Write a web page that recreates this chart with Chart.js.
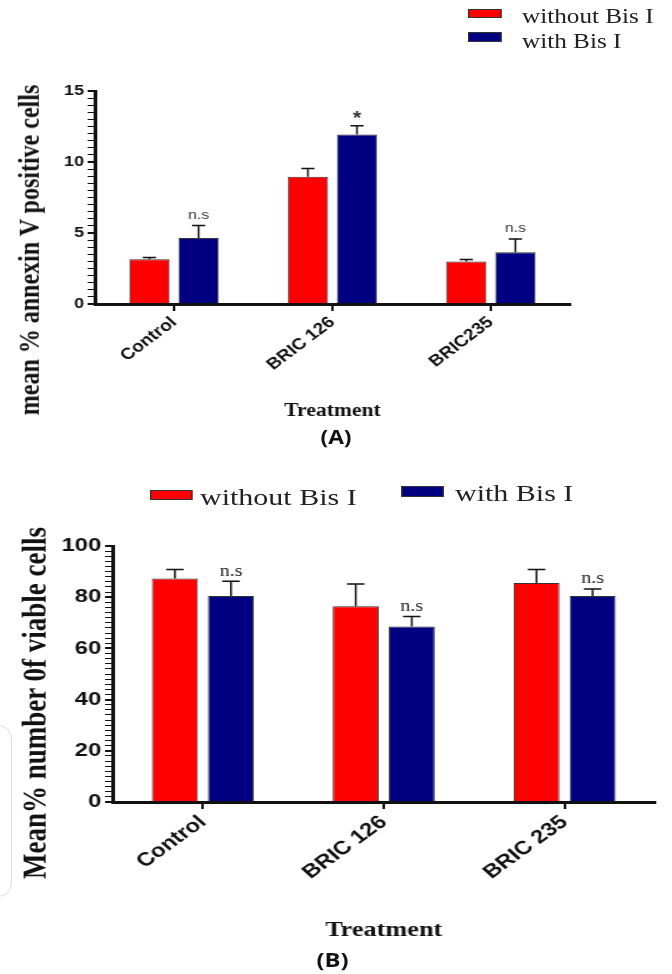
<!DOCTYPE html>
<html>
<head>
<meta charset="utf-8">
<script src="https://cdn.jsdelivr.net/npm/chart.js@4.4.1/dist/chart.umd.min.js"></script>
<style>
body{margin:0;background:#fff;width:672px;height:974px;overflow:hidden;position:relative;font-family:"Liberation Sans",Arial,sans-serif}
.panel{position:absolute;left:0;transform-origin:0 0}
#panelA{top:0;width:560px;height:460px;transform:scaleX(1.2)}
#panelB{top:470px;width:538px;height:504px;transform:scaleX(1.25)}
canvas{position:absolute;left:0;top:0}
.ytitle{position:absolute;font-family:"Liberation Serif","Times New Roman",serif;font-weight:bold;white-space:nowrap;color:#111;transform:translate(-50%,-50%) rotate(-90deg)}
.leg{position:absolute;font-family:"Liberation Serif","Times New Roman",serif;white-space:nowrap;color:#222}
.sw{position:absolute;border:1px solid #333;box-sizing:border-box}
.tag{position:absolute;font-family:"Open Sans",sans-serif;font-weight:bold;font-size:19px;color:#111;transform:translate(-50%,-50%)}
.edge{position:absolute;left:-20px;top:725px;width:30px;height:170px;border:1px solid #ddd;border-radius:14px}
</style>
</head>
<body>
<div class="edge"></div>

<div class="panel" id="panelA">
  <canvas id="chartA" width="560" height="425" style="width:560px;height:425px"></canvas>
  <div class="sw" style="left:390px;top:9px;width:28px;height:9px;background:#ff0000"></div>
  <div class="leg" style="left:435px;top:6px;font-size:21px;line-height:21px">without Bis I</div>
  <div class="sw" style="left:390px;top:32px;width:28px;height:10px;background:#000080"></div>
  <div class="leg" style="left:435px;top:31px;font-size:21px;line-height:21px">with Bis I</div>
  <div class="ytitle" style="left:25px;top:250px;font-size:24px">mean % annexin V positive cells</div>
  <div class="tag" style="left:280px;top:437px">(A)</div>
</div>

<div class="panel" id="panelB">
  <canvas id="chartB" width="538" height="480" style="width:538px;height:480px"></canvas>
  <div class="sw" style="left:120px;top:20px;width:34px;height:10px;background:#ff0000"></div>
  <div class="leg" style="left:160px;top:15px;font-size:24px;line-height:24px">without Bis I</div>
  <div class="sw" style="left:321px;top:16px;width:34px;height:11px;background:#000080"></div>
  <div class="leg" style="left:364px;top:11px;font-size:24px;line-height:24px">with Bis I</div>
  <div class="ytitle" style="left:28px;top:233px;font-size:27px">Mean% number 0f viable cells</div>
  <div class="tag" style="left:266px;top:490px">(B)</div>
</div>

<script>
// panel A: annexin V
const categoriesA = ['Control', 'BRIC 126', 'BRIC235'];
const withoutA = [3.16, 8.97, 3.0];
const withoutSemA = [0.12, 0.58, 0.14];
const withA = [4.64, 11.94, 3.65];
const withSemA = [0.89, 0.61, 0.92];
const marksA = ['n.s', '*', 'n.s'];

// panel B: viable cells
const categoriesB = ['Control', 'BRIC 126', 'BRIC 235'];
const withoutB = [87.3, 76.5, 85.5];
const withoutSemB = [3.5, 8.7, 5.3];
const withB = [80.5, 68.6, 80.5];
const withSemB = [5.7, 3.9, 2.7];
const marksB = ['n.s', 'n.s', 'n.s'];

const RED = '#ff0000', NAVY = '#000080', INK = '#111';

// upper error bars + significance marks
const errorBars = {
  id: 'errorBars',
  afterDatasetsDraw(chart, args, opts) {
    const ctx = chart.ctx, y = chart.scales.y;
    chart.data.datasets.forEach((ds, i) => {
      chart.getDatasetMeta(i).data.forEach((bar, j) => {
        const top = y.getPixelForValue(ds.data[j] + ds.sem[j]);
        ctx.save();
        ctx.strokeStyle = INK;
        ctx.lineWidth = opts.lineWidth;
        ctx.beginPath();
        ctx.moveTo(bar.x, bar.y);
        ctx.lineTo(bar.x, top);
        ctx.moveTo(bar.x - opts.cap / 2, top);
        ctx.lineTo(bar.x + opts.cap / 2, top);
        ctx.stroke();
        const t = ds.marks && ds.marks[j];
        if (t) {
          ctx.font = t === '*' ? opts.starFont : opts.font;
          ctx.fillStyle = opts.color;
          ctx.textAlign = 'center';
          ctx.textBaseline = 'bottom';
          ctx.fillText(t, bar.x, top - (t === '*' ? opts.starGap : opts.gap));
        }
        ctx.restore();
      });
    });
  }
};

function makeChart(id, cfg) {
  const tickFont = size => ({ family: 'Liberation Sans', weight: 'bold', size: size });
  return new Chart(document.getElementById(id), {
    type: 'bar',
    data: {
      labels: cfg.labels,
      datasets: [
        { label: 'without Bis I', data: cfg.without, sem: cfg.withoutSem, backgroundColor: RED,
          borderColor: '#333', borderWidth: 1, barPercentage: 0.82, categoryPercentage: 0.62 },
        { label: 'with Bis I', data: cfg.with, sem: cfg.withSem, marks: cfg.marks, backgroundColor: NAVY,
          borderColor: '#333', borderWidth: 1, barPercentage: 0.82, categoryPercentage: 0.62 }
      ]
    },
    options: {
      responsive: false,
      animation: false,
      layout: { padding: cfg.padding },
      plugins: {
        legend: { display: false },
        tooltip: { enabled: false },
        errorBars: cfg.err
      },
      scales: {
        x: {
          afterFit(s) { s.height = cfg.xHeight; },
          grid: { offset: false, drawOnChartArea: false, tickLength: 7, color: INK, lineWidth: 2 },
          border: { color: INK, width: 3 },
          ticks: { autoSkip: false, minRotation: cfg.rot, maxRotation: cfg.rot, padding: 2,
                   color: INK, font: tickFont(cfg.xFont) },
          title: { display: true, text: 'Treatment', color: INK,
                   font: { family: 'Liberation Serif', weight: 'bold', size: cfg.titleFont },
                   padding: { top: 0, bottom: cfg.titlePad } }
        },
        y: {
          min: 0, max: cfg.max,
          afterFit(s) { s.width = cfg.yWidth; },
          grid: { drawOnChartArea: false, tickLength: 6, color: INK,
                  lineWidth: c => (c.tick && c.tick.value % cfg.major === 0) ? 2 : 1 },
          border: { color: INK, width: 3 },
          ticks: { stepSize: cfg.minor, autoSkip: false, padding: 3, color: INK, font: tickFont(cfg.yFont),
                   callback: v => (v % cfg.major === 0 ? v : '') }
        }
      }
    },
    plugins: [errorBars]
  });
}

makeChart('chartA', {
  labels: categoriesA, without: withoutA, withoutSem: withoutSemA, with: withA, withSem: withSemA, marks: marksA,
  padding: { top: 91, right: 85, left: 0, bottom: 0 },
  xHeight: 121, yWidth: 79, rot: 42, xFont: 16, yFont: 15, titleFont: 18, titlePad: 3,
  max: 15, minor: 0.5, major: 5,
  err: { lineWidth: 1.5, cap: 11, gap: 4, color: '#333', font: '13px "Liberation Sans"',
         starFont: 'bold 18px "Liberation Sans"', starGap: -2 }
});

makeChart('chartB', {
  labels: categoriesB, without: withoutB, withoutSem: withoutSemB, with: withB, withSem: withSemB, marks: marksB,
  padding: { top: 76, right: 14, left: 0, bottom: 0 },
  xHeight: 148, yWidth: 90, rot: 42, xFont: 19, yFont: 19, titleFont: 21, titlePad: 7,
  max: 100, minor: 2, major: 20,
  err: { lineWidth: 1.5, cap: 14, gap: 2, color: '#222', font: '16px "Liberation Serif"',
         starFont: 'bold 18px "Liberation Sans"', starGap: -2 }
});
</script>
</body>
</html>
